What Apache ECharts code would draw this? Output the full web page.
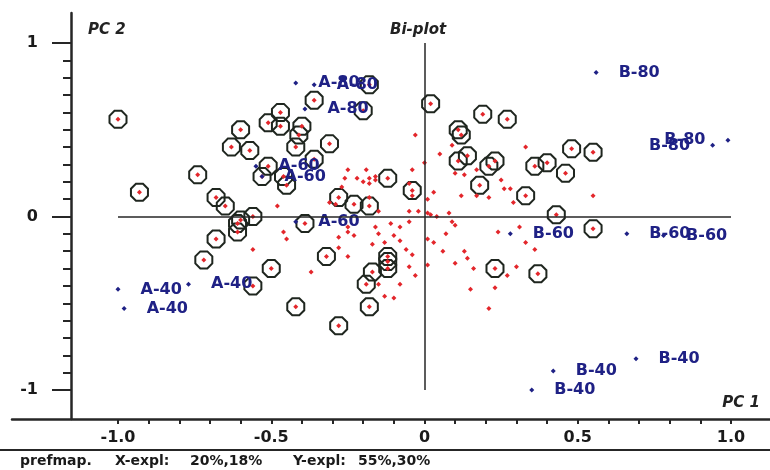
<!DOCTYPE html>
<html>
<head>
<meta charset="utf-8">
<script src="https://cdn.jsdelivr.net/npm/echarts@6/dist/echarts.min.js"></script>
<style>
  html, body { margin: 0; padding: 0; background: #fff; }
  #chart { width: 770px; height: 470px; }
</style>
</head>
<body>
<div id="chart"></div>
<script>
// consumer points that are circled on the map
const circledPts = [
  [-1.00, 0.56], [-0.60, 0.50], [-0.63, 0.40], [-0.57, 0.38], [-0.74, 0.24], [-0.93, 0.14],
  [-0.68, 0.11], [-0.65, 0.06], [-0.51, 0.54], [-0.51, 0.29], [-0.53, 0.23], [-0.36, 0.67],
  [-0.20, 0.61], [-0.18, 0.76], [-0.47, 0.60], [-0.47, 0.52], [-0.40, 0.52], [-0.41, 0.47],
  [-0.42, 0.40], [-0.31, 0.42], [-0.36, 0.33], [-0.46, 0.23], [-0.45, 0.18], [-0.12, 0.22],
  [-0.04, 0.15], [-0.28, 0.11], [-0.23, 0.07], [-0.18, 0.06], [0.02, 0.65], [0.19, 0.59],
  [0.27, 0.56], [0.11, 0.50], [0.12, 0.47], [0.14, 0.35], [0.11, 0.32], [0.23, 0.32],
  [0.21, 0.29], [0.36, 0.29], [0.40, 0.31], [0.46, 0.25], [0.48, 0.39], [0.55, 0.37],
  [0.18, 0.18], [0.33, 0.12], [0.43, 0.01], [0.55, -0.07], [0.23, -0.30], [0.37, -0.33],
  [-0.60, -0.02], [-0.56, 0.00], [-0.61, -0.04], [-0.61, -0.09], [-0.68, -0.13], [-0.72, -0.25],
  [-0.56, -0.40], [-0.50, -0.30], [-0.39, -0.04], [-0.32, -0.23], [-0.12, -0.23], [-0.12, -0.26],
  [-0.12, -0.30], [-0.17, -0.32], [-0.19, -0.39], [-0.42, -0.52], [-0.18, -0.52], [-0.28, -0.63]
];

// other consumer points (red only)
const redPts = [
  [-0.25, 0.27], [-0.19, 0.27], [-0.22, 0.22], [-0.20, 0.20], [-0.18, 0.22], [-0.16, 0.23],
  [-0.16, 0.21], [-0.18, 0.19], [-0.26, 0.22], [-0.27, 0.17], [-0.04, 0.27], [-0.05, 0.19],
  [-0.03, 0.47], [0.00, 0.31], [-0.29, 0.07], [-0.04, 0.12], [-0.05, 0.03], [-0.02, 0.03],
  [0.01, 0.02], [-0.05, -0.03], [-0.16, -0.06], [-0.11, -0.04], [-0.08, -0.06], [-0.15, -0.10],
  [-0.28, -0.12], [-0.23, -0.11], [-0.10, -0.11], [-0.25, -0.06], [-0.15, 0.03], [-0.31, 0.08],
  [-0.18, 0.11], [-0.48, 0.06], [-0.46, -0.09], [-0.45, -0.13], [-0.25, -0.09], [-0.28, -0.18],
  [-0.25, -0.23], [-0.17, -0.16], [-0.13, -0.15], [-0.08, -0.14], [-0.06, -0.19], [-0.04, -0.22],
  [-0.37, -0.32], [-0.15, -0.39], [-0.08, -0.39], [-0.13, -0.46], [-0.10, -0.47], [-0.05, -0.29],
  [-0.03, -0.34], [0.01, -0.28], [-0.56, -0.19],
  [0.33, 0.40], [0.09, 0.41], [0.05, 0.36], [0.10, 0.25], [0.13, 0.24], [0.17, 0.27],
  [0.25, 0.21], [0.26, 0.16], [0.28, 0.16], [0.03, 0.14], [0.12, 0.12], [0.55, 0.12],
  [0.21, 0.11], [0.17, 0.12], [0.29, 0.08], [0.01, 0.10], [0.02, 0.01], [0.04, 0.00],
  [0.08, 0.02], [0.09, -0.03], [0.10, -0.05], [0.07, -0.10], [0.01, -0.13], [0.03, -0.15],
  [0.06, -0.20], [0.13, -0.20], [0.14, -0.24], [0.10, -0.27], [0.16, -0.30], [0.24, -0.09],
  [0.31, -0.06], [0.33, -0.15], [0.36, -0.19], [0.30, -0.29], [0.27, -0.34], [0.15, -0.42],
  [0.23, -0.41], [0.21, -0.53]
];

// product points (blue, labelled)
const blueNames = ['B-80', 'B-80', 'B-80', 'B-60', 'B-60', 'B-60', 'B-40', 'B-40', 'B-40',
                   'A-40', 'A-40', 'A-40', 'A-60', 'A-60', 'A-60', 'A-80', 'A-80', 'A-80'];
const blueX = [0.56, 0.99, 0.94, 0.28, 0.66, 0.78, 0.69, 0.42, 0.35,
               -1.00, -0.98, -0.77, -0.42, -0.55, -0.53, -0.42, -0.36, -0.39];
const blueY = [0.83, 0.44, 0.41, -0.10, -0.10, -0.11, -0.82, -0.89, -1.00,
               -0.42, -0.53, -0.39, -0.03, 0.29, 0.23, 0.77, 0.76, 0.62];

const footer = ['prefmap.', 'X-expl:', '20%,18%', 'Y-expl:', '55%,30%'];

const RED = '#e3262b';
const NAVY = '#1f2185';
const INK = '#262626';
const octagon = 'path://M-0.414,-1L0.414,-1L1,-0.414L1,0.414L0.414,1L-0.414,1L-1,0.414L-1,-0.414Z';

const blueData = blueNames.map((n, i) => ({
  name: n,
  value: [blueX[i], blueY[i]],
  // points close to the right edge get the label on the left side
  label: { position: blueX[i] > 0.9 ? 'left' : 'right' }
}));

const chart = echarts.init(document.getElementById('chart'));

const footerX = [20, 115, 190, 293, 358];

chart.setOption({
  animation: false,
  grid: [
    { left: 12, right: 0, top: 13, bottom: 51 },
    { left: 118, right: 39, top: 43, bottom: 80 }
  ],
  xAxis: [
    {
      gridIndex: 0, type: 'value', min: 0, max: 1,
      axisLine: { show: true, onZero: false, lineStyle: { color: INK, width: 2.5 } },
      axisTick: { show: false }, axisLabel: { show: false }, splitLine: { show: false }
    },
    {
      gridIndex: 1, type: 'value', min: -1, max: 1, interval: 0.5, offset: 29,
      axisLine: { show: false, onZero: false },
      axisTick: { show: true, length: 5, lineStyle: { color: INK, width: 2 } },
      minorTick: { show: true, splitNumber: 5, length: 5, lineStyle: { color: INK, width: 2 } },
      axisLabel: {
        margin: 11, color: '#1a1a1a', fontSize: 16, fontWeight: 'bold', fontFamily: 'DejaVu Sans',
        formatter: v => (v === 0 ? '0' : v.toFixed(1))
      },
      splitLine: { show: false }
    }
  ],
  yAxis: [
    {
      gridIndex: 0, type: 'value', min: 0, max: 1, offset: -59,
      axisLine: { show: true, onZero: false, lineStyle: { color: INK, width: 2.5 } },
      axisTick: { show: false }, axisLabel: { show: false }, splitLine: { show: false }
    },
    {
      gridIndex: 1, type: 'value', min: -1, max: 1, interval: 1, offset: 47,
      axisLine: { show: false, onZero: false },
      axisTick: { show: true, length: 19, lineStyle: { color: INK, width: 2 } },
      minorTick: { show: true, splitNumber: 10, length: 8, lineStyle: { color: INK, width: 2 } },
      axisLabel: { margin: 33, color: '#1a1a1a', fontSize: 16, fontWeight: 'bold', fontFamily: 'DejaVu Sans' },
      splitLine: { show: false }
    }
  ],
  series: [
    {
      type: 'scatter', xAxisIndex: 1, yAxisIndex: 1,
      data: circledPts,
      symbol: octagon, symbolSize: 17,
      itemStyle: { color: 'rgba(0,0,0,0)', borderColor: '#1f261f', borderWidth: 2, opacity: 1 },
      silent: true
    },
    {
      type: 'scatter', xAxisIndex: 1, yAxisIndex: 1,
      data: redPts.concat(circledPts),
      symbol: 'diamond', symbolSize: 5,
      itemStyle: { color: RED, opacity: 1 },
      markLine: {
        silent: true, symbol: 'none', label: { show: false },
        lineStyle: { color: INK, width: 1.5, type: 'solid', opacity: 1 },
        data: [
          [{ coord: [-1, 0] }, { coord: [1, 0] }],
          [{ coord: [0, -1] }, { coord: [0, 1] }]
        ]
      }
    },
    {
      type: 'scatter', xAxisIndex: 1, yAxisIndex: 1,
      data: blueData,
      symbol: 'diamond', symbolSize: 5,
      itemStyle: { color: NAVY, opacity: 1 },
      label: {
        show: true, formatter: '{b}', distance: 20,
        color: NAVY, fontSize: 16, fontWeight: 'bold', fontFamily: 'DejaVu Sans'
      }
    }
  ],
  graphic: [
    { type: 'text', x: 88, y: 30, style: { text: 'PC 2', font: 'italic bold 15px "DejaVu Sans"', fill: '#222', verticalAlign: 'middle' } },
    { type: 'text', x: 390, y: 30, style: { text: 'Bi-plot', font: 'italic bold 15px "DejaVu Sans"', fill: '#222', verticalAlign: 'middle' } },
    { type: 'text', x: 760, y: 403, style: { text: 'PC 1', font: 'italic bold 15px "DejaVu Sans"', fill: '#222', align: 'right', verticalAlign: 'middle' } },
    { type: 'line', shape: { x1: 0, y1: 450, x2: 770, y2: 450 }, style: { stroke: INK, lineWidth: 2 } }
  ].concat(footer.map((t, i) => ({
    type: 'text', x: footerX[i], y: 461,
    style: { text: t, font: 'bold 14px "DejaVu Sans"', fill: '#1a1a1a', verticalAlign: 'middle' }
  })))
});
</script>
</body>
</html>
